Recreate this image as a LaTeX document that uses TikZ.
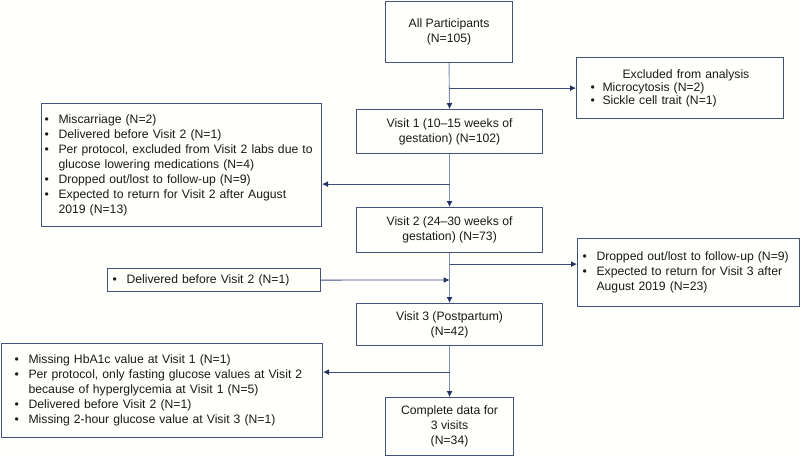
\documentclass[tikz,border=0pt]{standalone}
\usepackage{fontspec}
\setmainfont{Liberation Sans}
\usetikzlibrary{arrows.meta}
\definecolor{boxline}{RGB}{70,82,125}
\definecolor{trunkline}{RGB}{128,140,180}
\definecolor{sideline}{RGB}{62,76,124}
\definecolor{tipcol}{RGB}{35,50,100}
\definecolor{paper}{RGB}{255,255,252}
\newcommand{\bul}[1][14pt]{\makebox[#1][l]{\textbullet}}
\newcommand{\ind}[1][14pt]{\hspace*{#1}}
\tikzset{
	box/.style={draw=boxline, line width=1.1pt, anchor=north west, inner ysep=0pt, align=center, text=black!90},
	listbox/.style={box, align=left},
	flow/.style={draw=trunkline, line width=0.9pt, -{Latex[length=6pt,width=6pt,color=tipcol]}},
	side/.style={draw=sideline, line width=0.9pt, -{Latex[length=6pt,width=6pt,color=tipcol]}}
}

\begin{document}
\begin{tikzpicture}[x=1pt,y=-1pt,font=\fontsize{12.2}{15}\selectfont]
	\fill[paper] (0,0) rectangle (800,456);
	\useasboundingbox (0,0) rectangle (800,456);
	\node[box,minimum width=127pt,minimum height=61pt] (all) at (385,1) {All Participants\\(N=105)};
	\node[listbox,inner xsep=14pt,text width=179pt,minimum height=61pt,font=\fontsize{12.2}{13}\selectfont] (excl) at (576,57) {\hspace*{32pt}Excluded from analysis\\\bul[12pt]Microcytosis (N=2)\\\bul[12pt]Sickle cell trait (N=1)};
	\node[box,minimum width=186pt,minimum height=44pt] (v1) at (356,109) {Visit 1 (10\textendash15 weeks of\\gestation) (N=102)};
	\node[listbox,inner xsep=3pt,text width=274pt,minimum height=123pt] (lb1) at (41,103) {\bul Miscarriage (N=2)\\\bul Delivered before Visit 2 (N=1)\\\mbox{\bul Per protocol, excluded from Visit 2 labs due to}\\\ind glucose lowering medications (N=4)\\\bul Dropped out/lost to follow-up (N=9)\\\mbox{\bul Expected to return for Visit 2 after August}\\\ind 2019 (N=13)};
	\node[box,minimum width=186pt,minimum height=45pt] (v2) at (356,207) {Visit 2 (24\textendash30 weeks of\\gestation) (N=73)};
	\node[listbox,inner xsep=5pt,text width=212pt,minimum height=68pt] (rb2) at (577,238) {\bul Dropped out/lost to follow-up (N=9)\\\bul Expected to return for Visit 3 after\\\ind August 2019 (N=23)};
	\node[listbox,inner xsep=5pt,text width=203pt,minimum height=23pt] (deliv) at (107,268) {\bul Delivered before Visit 2 (N=1)};
	\node[box,minimum width=186pt,minimum height=42pt] (v3) at (356,303) {Visit 3 (Postpartum)\\(N=42)};
	\node[listbox,inner xsep=13pt,text width=295pt,minimum height=94pt] (bb) at (1,343) {\bul Missing HbA1c value at Visit 1 (N=1)\\\mbox{\bul Per protocol, only fasting glucose values at Visit 2}\\\ind because of hyperglycemia at Visit 1 (N=5)\\\bul Delivered before Visit 2 (N=1)\\\bul Missing 2-hour glucose value at Visit 3 (N=1)};
	\node[box,minimum width=128pt,minimum height=58pt] (comp) at (385,397) {Complete data for\\3 visits\\(N=34)};
	\coordinate (j1) at ([yshift=-25pt]all.south);
	\coordinate (j2) at ([yshift=-30pt]v1.south);
	\coordinate (j3) at ([yshift=-11pt]v2.south);
	\coordinate (j4) at ([yshift=23pt]v3.north);
	\coordinate (j5) at ([yshift=-26pt]v3.south);
	\draw[flow] (all.south) -- (v1.north);
	\draw[flow] (v1.south) -- (v2.north);
	\draw[flow] (v2.south) -- (v3.north);
	\draw[flow] (v3.south) -- (comp.north);
	\draw[side] (j1) -- (excl.west |- j1);
	\draw[side] (j2) -- (lb1.east |- j2);
	\draw[side] (j3) -- (rb2.west |- j3);
	\draw[side] (deliv.east) -- (j4);
	\draw[side] (j5) -- (bb.east |- j5);
\end{tikzpicture}
\end{document}
